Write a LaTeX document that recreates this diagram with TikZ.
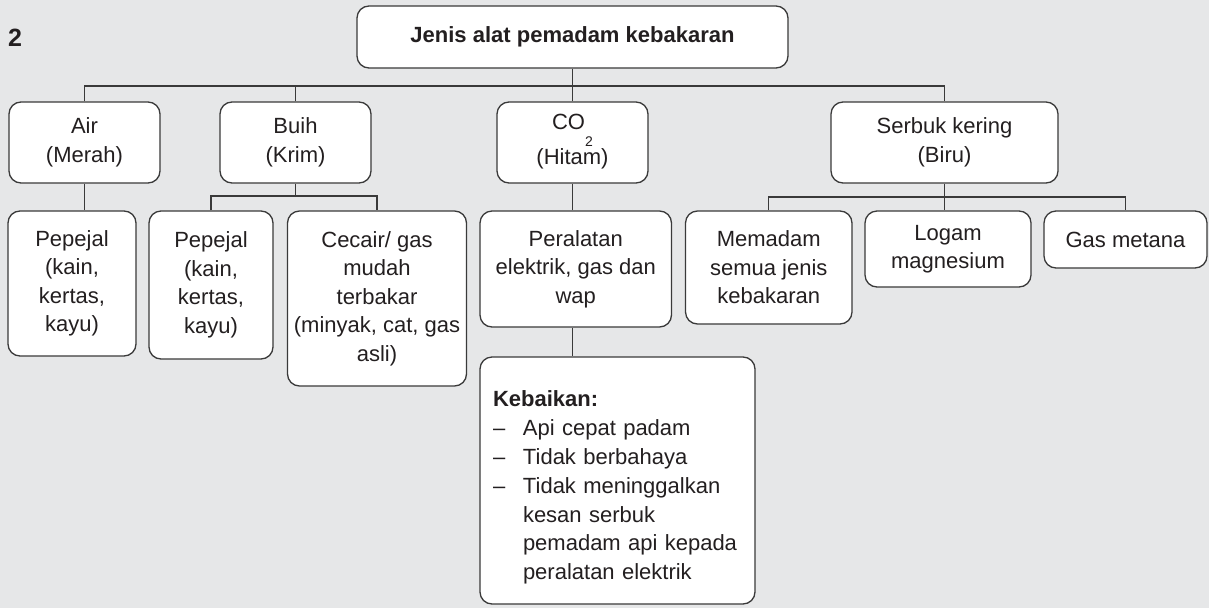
\documentclass[tikz,border=0pt]{standalone}
\usepackage{fontspec}
\setmainfont{Liberation Sans}
\definecolor{bgc}{HTML}{E6E7E8}
\definecolor{linec}{HTML}{3A3A3A}
\definecolor{txtc}{HTML}{231F20}
\begin{document}
\begin{tikzpicture}[x=1pt,y=-1pt,
  box/.style={draw=linec, fill=white, rounded corners=12pt, line width=1.3pt,
    inner sep=0pt, align=center, text=txtc, font=\fontsize{22}{28.5}\selectfont},
  conn/.style={draw=linec, line width=1.3pt}]
\useasboundingbox (0,0) rectangle (1209,608);
\fill[bgc] (0,0) rectangle (1209,608);

\node[anchor=north west, inner sep=0pt, text=txtc, font=\fontsize{25}{28}\selectfont\bfseries] (num) at (8,29) {2};

\node[box, minimum width=431, minimum height=62, font=\fontsize{22}{26}\selectfont\bfseries] (top) at (572.5,37) {Jenis alat pemadam kebakaran};

\node[box, minimum width=151, minimum height=81] (air) at (84.5,142.5) {Air\\(Merah)};
\node[box, minimum width=151, minimum height=81] (buih) at (295.5,142.5) {Buih\\(Krim)};
\node[box, minimum width=151, minimum height=81, font=\fontsize{22}{35}\selectfont] (co2) at (572.5,142.5)
 {CO\smash{\raisebox{-16.5pt}{\fontsize{14}{14}\selectfont 2}}\\(Hitam)\rule[-6pt]{0pt}{0pt}};
\node[box, minimum width=227, minimum height=81] (serbuk) at (944.5,142.5) {Serbuk kering\\(Biru)};

\node[box, minimum width=128, minimum height=145] (pep1) at (72,283.5) {Pepejal\\(kain,\\kertas,\\kayu)};
\node[box, minimum width=124, minimum height=148] (pep2) at (211,285) {Pepejal\\(kain,\\kertas,\\kayu)};
\node[box, minimum width=179, minimum height=175] (cecair) at (377,298.5) {Cecair/ gas\\mudah\\terbakar\\(minyak, cat, gas\\asli)};
\node[box, minimum width=191.5, minimum height=116] (peral) at (575.75,269) {Peralatan\\elektrik, gas dan\\wap};
\node[box, minimum width=166.5, minimum height=113] (memadam) at (768.75,267.5) {Memadam\\semua jenis\\kebakaran};
\node[box, minimum width=166, minimum height=76] (logam) at (948,249) {Logam\\magnesium};
\node[box, minimum width=163, minimum height=57] (gas) at (1125.5,239.5) {Gas metana};

\node[box, minimum width=275, minimum height=247, align=left, text width=249, font=\fontsize{22}{28.8}\selectfont] (keb) at (617.5,480.5)
 {\rule{0pt}{30pt}\textbf{Kebaikan:}\\
  \makebox[30pt][l]{–}Api cepat padam\\
  \makebox[30pt][l]{–}Tidak berbahaya\\
  \makebox[30pt][l]{–}Tidak meninggalkan\\
  \hspace*{30pt}kesan serbuk\\
  \hspace*{30pt}pemadam api kepada\\
  \hspace*{30pt}peralatan elektrik};

% connectors
\draw[conn] (top.south) -- (top.south |- 0,86);
\draw[conn] (air.north) -- (air.north |- 0,86) -- (serbuk.north |- 0,86) -- (serbuk.north);
\draw[conn] (buih.north) -- (buih.north |- 0,86);
\draw[conn] (co2.north) -- (co2.north |- 0,86);

\draw[conn] (air.south) -- (air.south |- pep1.north);

\draw[conn] (buih.south) -- (buih.south |- 0,196);
\draw[conn] (pep2.north) -- (pep2.north |- 0,196) -- (cecair.north |- 0,196) -- (cecair.north);

\draw[conn] (co2.south) -- (co2.south |- peral.north);
\draw[conn] (co2.south |- peral.south) -- (co2.south |- keb.north);

\draw[conn] (serbuk.south) -- (serbuk.south |- logam.north);
\draw[conn] (memadam.north) -- (memadam.north |- 0,197) -- (gas.north |- 0,197) -- (gas.north);
\end{tikzpicture}
\end{document}
